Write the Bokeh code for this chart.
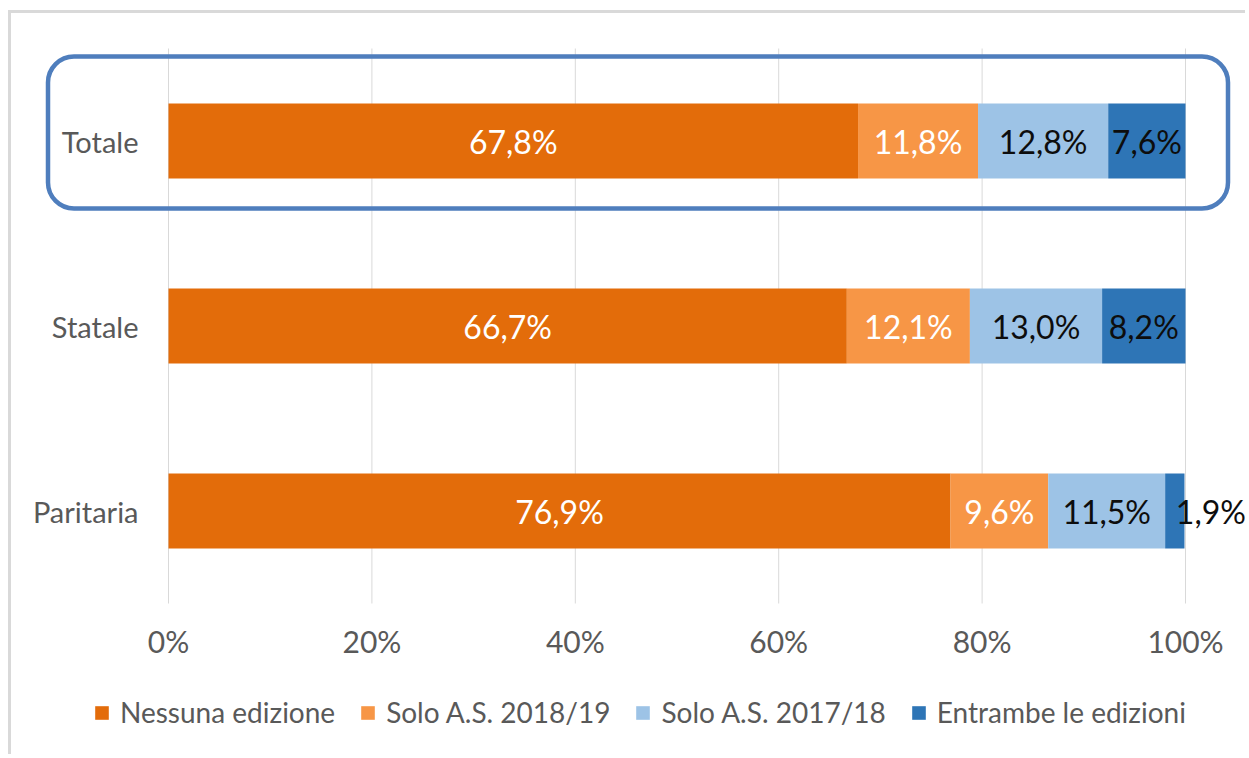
from bokeh.plotting import figure
from bokeh.models import (ColumnDataSource, Range1d, Legend, LegendItem, BoxAnnotation)
from bokeh.core.properties import value
from bokeh.embed import file_html
from bokeh.resources import INLINE

# ---------------- data ----------------
categories = ["Totale", "Statale", "Paritaria"]
series = ["Nessuna edizione", "Solo A.S. 2018/19", "Solo A.S. 2017/18", "Entrambe le edizioni"]
nessuna = [67.8, 66.7, 76.9]
solo_1819 = [11.8, 12.1, 9.6]
solo_1718 = [12.8, 13.0, 11.5]
entrambe = [7.6, 8.2, 1.9]
tick_values = [0, 20, 40, 60, 80, 100]
tick_labels = ["0%", "20%", "40%", "60%", "80%", "100%"]

# ---------------- style / layout (pixels) ----------------
FONT = "Lato"
colors = ["#E36C0A", "#F79646", "#9DC3E6", "#2E75B6"]
label_colors = ["#FFFFFF", "#FFFFFF", "#0D0D0D", "#0D0D0D"]
GRAY = "#595959"
GRID = "#D9D9D9"
OFF_X, OFF_Y = 11, 13          # figure offset on the page (margin + frame border)
W, H = 1237, 744               # figure size
PX0, PX100 = 168 - OFF_X, 1185 - OFF_X   # pixel of 0% and 100%
PY_TOP_CAT = 140.5 - OFF_Y     # pixel centre of first category
ROW = 185.0                    # pixels per category row
LABEL_PX = 32                  # data label font size

n = len(categories)
xs = (PX100 - PX0) / 100.0     # px per unit
x_start = -PX0 / xs
x_end = 100 + (W - PX100) / xs
y_end = n + PY_TOP_CAT / ROW
y_start = y_end - H / ROW

def px_to_x(px):
    return x_start + (px - OFF_X) / xs

def py_to_y(py):
    return y_end - (py - OFF_Y) / ROW

pos = [n - i for i in range(n)]   # Totale on top
keys = ["s0", "s1", "s2", "s3"]
values = [nessuna, solo_1819, solo_1718, entrambe]
src = ColumnDataSource(dict(pos=pos, **{k: v for k, v in zip(keys, values)}))

p = figure(width=W, height=H, output_backend="svg", toolbar_location=None,
           x_range=Range1d(x_start, x_end), y_range=Range1d(y_start, y_end),
           min_border=0)
p.styles = {"margin": "%dpx 0 0 %dpx" % (OFF_Y - 3, OFF_X - 3),
            "border-left": "3px solid #D9D9D9", "border-top": "3px solid #D9D9D9"}
p.axis.visible = False
p.grid.visible = False
p.outline_line_color = None

# vertical gridlines over the category band
p.segment(x0=tick_values, x1=tick_values, y0=[0.5] * len(tick_values),
          y1=[n + 0.5] * len(tick_values), line_color=GRID, line_width=1)

renderers = p.hbar_stack(keys, y="pos", height=0.405, color=colors, line_color=None, source=src)

# data labels: centred in each segment; a segment too narrow for its label
# gets the label starting at its centre
for i, vals in enumerate(values):
    starts = [sum(values[j][c] for j in range(i)) for c in range(n)]
    for c in range(n):
        v = vals[c]
        txt = ("%.1f" % v).replace(".", ",") + "%"
        narrow = v * xs < 2.2 * LABEL_PX
        p.text(x=[starts[c] + v / 2], y=[pos[c]], text=[txt],
               text_align="left" if narrow else "center", text_baseline="middle",
               x_offset=1 if narrow else 0,
               text_font=value(FONT), text_font_size="%dpx" % LABEL_PX,
               text_color=label_colors[i])

# category labels (right aligned, 30px left of 0%)
p.text(x=[-30 / xs] * n, y=pos, text=categories, text_align="right", text_baseline="middle",
       text_font=value(FONT), text_font_size="29px", text_color=GRAY)

# x tick labels
p.text(x=tick_values, y=[0.5 - 37 / ROW] * len(tick_values), text=tick_labels,
       text_align="center", text_baseline="middle",
       text_font=value(FONT), text_font_size="30px", text_color=GRAY)

# highlight box around "Totale"
box = BoxAnnotation(left=px_to_x(47.5), right=px_to_x(1227.5), top=py_to_y(56), bottom=py_to_y(208),
                    fill_alpha=0, line_color="#4F7EBD", line_alpha=1, line_width=4.5,
                    border_radius=26)
p.add_layout(box)

# legend
items = [LegendItem(label=s, renderers=[r]) for s, r in zip(series, renderers)]
legend = Legend(items=items, orientation="horizontal", location=(93 - OFF_X, 28),
                glyph_width=17, glyph_height=17, label_standoff=10, spacing=24,
                padding=0, margin=0, border_line_color=None, background_fill_alpha=0,
                label_text_font=FONT, label_text_font_size="28px", label_text_color=GRAY)
p.add_layout(legend)

open("out.html", "w").write(file_html(p, INLINE))
